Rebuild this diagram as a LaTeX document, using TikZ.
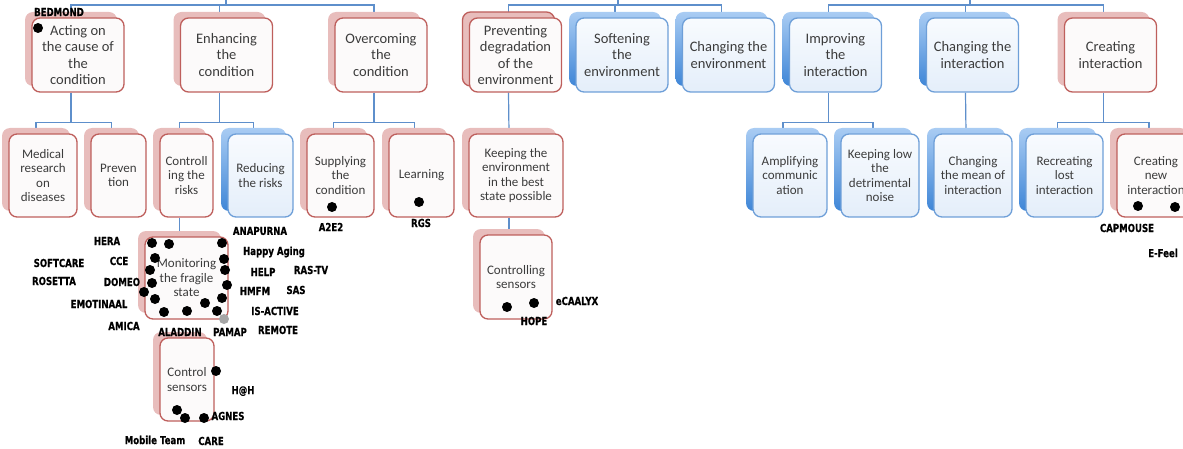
\documentclass[tikz,border=0pt]{standalone}
\usepackage{fontspec}
\setmainfont{Carlito}
\newfontfamily\tagfont{DejaVu Sans}[FakeStretch=0.78, FakeBold=0.6]
\usetikzlibrary{positioning, shadows, backgrounds}
\definecolor{linkblue}{HTML}{5E8FCB}
\definecolor{redline}{HTML}{BE5F5C}
\definecolor{redshade}{HTML}{E8BDBC}
\definecolor{redfill}{HTML}{FCFAFA}
\definecolor{blueline}{HTML}{6E9FD8}
\definecolor{bluetop}{HTML}{F8FBFE}
\definecolor{bluebot}{HTML}{E4EEFA}
\definecolor{blueshtop}{HTML}{A9CCF3}
\definecolor{blueshbot}{HTML}{3F86D7}
\definecolor{boxtext}{HTML}{3C3C3C}
\tikzset{
  goal/.style={draw, rounded corners=8pt, line width=1.3pt, align=center, text=boxtext, inner sep=0pt},
  redbase/.style={goal, draw=redline, fill=redfill},
  redgoal/.style={redbase, general shadow={fill=redshade, shadow xshift=-7pt, shadow yshift=6pt}},
  redgoaltwin/.style={redbase, general shadow={draw=redline, line width=1.3pt, fill=redshade, shadow xshift=-7pt, shadow yshift=6pt}},
  bluegoal/.style={goal, draw=blueline, top color=bluetop, bottom color=bluebot,
    general shadow={top color=blueshtop, bottom color=blueshbot, shadow xshift=-7pt, shadow yshift=6pt}},
  lvlone/.style={minimum width=92pt, minimum height=74pt, font=\fontsize{14.5}{16.5}\selectfont},
  lvltwo/.style={minimum height=83pt, font=\fontsize{13}{14.5}\selectfont},
  link/.style={draw=linkblue, line width=1.2pt},
  dot/.style={circle, fill=black, minimum size=10pt, inner sep=0pt},
  tag/.style={font=\tagfont\bfseries\fontsize{11}{12}\selectfont, inner sep=0pt}
}
\begin{document}
\begin{tikzpicture}[x=1pt, y=-1pt]
    \useasboundingbox (0,0) rectangle (1183,449);

    % first level
    \node[redgoal, lvlone] (act) at (78,55) {Acting on\\the cause of\\the\\condition};
    \node[redgoal, lvlone] (enh) at (226.5,55) {Enhancing\\the\\condition};
    \node[redgoal, lvlone] (ovc) at (381,55) {Overcoming\\the\\condition};
    \node[redgoaltwin, lvlone] (prv) at (515.5,55) {Preventing\\degradation\\of the\\environment};
    \node[bluegoal, lvlone] (sft) at (622,55) {Softening\\the\\environment};
    \node[bluegoal, lvlone] (chg) at (728.5,55) {Changing the\\environment};
    \node[bluegoal, lvlone] (imp) at (835.5,55) {Improving\\the\\interaction};
    \node[bluegoal, lvlone] (chi) at (972.5,55) {Changing the\\interaction};
    \node[redgoal, lvlone] (cre) at (1110.5,55) {Creating\\interaction};

    % second level
    \node[redgoal, lvltwo, minimum width=68pt] (med) at (43,175.5) {Medical\\research\\on\\diseases};
    \node[redgoal, lvltwo, minimum width=55pt] (pvn) at (118.5,175.5) {Preven\\tion};
    \node[redgoal, lvltwo, minimum width=53pt] (ctl) at (186.5,175.5) {Controll\\ing the\\risks};
    \node[bluegoal, lvltwo, minimum width=65pt] (rdc) at (260.5,175.5) {Reducing\\the risks};
    \node[redgoal, lvltwo, minimum width=67pt] (sup) at (340.5,175.5) {Supplying\\the\\condition};
    \node[redgoal, lvltwo, minimum width=65pt] (lrn) at (421.5,175.5) {Learning};
    \node[redgoal, lvltwo, minimum width=94pt] (kee) at (516,175.5) {Keeping the\\environment\\in the best\\state possible};
    \node[bluegoal, lvltwo, minimum width=74pt] (amp) at (790,175.5) {Amplifying\\communic\\ation};
    \node[bluegoal, lvltwo, minimum width=78pt] (klo) at (880,175.5) {Keeping low\\the\\detrimental\\noise};
    \node[bluegoal, lvltwo, minimum width=78pt] (chm) at (973,175.5) {Changing\\the mean of\\interaction};
    \node[bluegoal, lvltwo, minimum width=77pt] (rec) at (1064.5,175.5) {Recreating\\lost\\interaction};
    \node[redgoal, lvltwo, minimum width=78pt] (crn) at (1156,175.5) {Creating\\new\\interaction};

    % third level
    \node[redgoal, lvltwo, minimum width=83pt, minimum height=82pt] (mon) at (186.5,278) {Monitoring\\the fragile\\state};
    \node[redgoal, lvltwo, minimum width=54pt] (csn) at (187,379.5) {Control\\sensors};
    \node[redgoal, lvltwo, minimum width=72pt, minimum height=84pt] (cse) at (516,277) {Controlling\\sensors};

    % connectors
    \coordinate (cureroot) at (226,0);
    \coordinate (curebar) at (226,5);
    \coordinate (envroot) at (618,0);
    \coordinate (envbar) at (618,5);
    \coordinate (introot) at (970,0);
    \coordinate (intbar) at (970,5);
    \begin{scope}[on background layer]
      \draw[link] (cureroot) -- (curebar);
      \draw[link] ([xshift=-7pt]act.north) |- (curebar) -| ([xshift=-7pt]ovc.north);
      \draw[link] (curebar) -| ([xshift=-7pt]enh.north);
      \draw[link] (envroot) -- (envbar);
      \draw[link] ([xshift=-7pt]prv.north) |- (envbar) -| ([xshift=-7pt]chg.north);
      \draw[link] (envbar) -| ([xshift=-7pt]sft.north);
      \draw[link] (introot) -- (intbar);
      \draw[link] ([xshift=-7pt]imp.north) |- (intbar) -| ([xshift=-7pt]cre.north);
      \draw[link] (intbar) -| ([xshift=-7pt]chi.north);

      \draw[link] ([xshift=-7pt]act.south) -- ++(0,30) coordinate (actbar);
      \draw[link] ([xshift=-7pt]med.north) |- (actbar) -| ([xshift=-7pt]pvn.north);
      \draw[link] ([xshift=-7pt]enh.south) -- ++(0,30) coordinate (enhbar);
      \draw[link] ([xshift=-7pt]ctl.north) |- (enhbar) -| ([xshift=-7pt]rdc.north);
      \draw[link] ([xshift=-7pt]ovc.south) -- ++(0,30) coordinate (ovcbar);
      \draw[link] ([xshift=-7pt]sup.north) |- (ovcbar) -| ([xshift=-7pt]lrn.north);
      \draw[link] ([xshift=-7pt]prv.south) -- ([xshift=-7pt]kee.north);
      \draw[link] ([xshift=-7pt]imp.south) -- ++(0,30) coordinate (impbar);
      \draw[link] ([xshift=-7pt]amp.north) |- (impbar) -| ([xshift=-7pt]klo.north);
      \draw[link] ([xshift=-7pt]chi.south) -- ([xshift=-7pt]chm.north);
      \draw[link] ([xshift=-7pt]cre.south) -- ++(0,30) coordinate (crebar);
      \draw[link] ([xshift=-7pt]rec.north) |- (crebar) -| ([xshift=-7pt]crn.north);

      \draw[link] ([xshift=-7pt]ctl.south) -- ([xshift=-7pt]mon.north);
      \draw[link] ([xshift=-7pt]kee.south) -- ([xshift=-7pt]cse.north);
    \end{scope}

    % projects
    \node[dot] (bedmonddot) at (38,28) {};
    \node[dot] (a2e2dot) at (332,207) {};
    \node[dot] (rgsdot) at (419,202) {};
    \node[dot] (capmousedot) at (1138,206) {};
    \node[dot] (efeeldot) at (1175,207) {};
    \node[dot] (hopedot) at (507,307) {};
    \node[dot] (ecaalyxdot) at (534,303) {};
    \node[dot] (hhdot) at (216,371) {};
    \node[dot] (mobiledot) at (177,410) {};
    \node[dot] (agnesdot) at (185,418) {};
    \node[dot] (caredot) at (204,418) {};
    \foreach \i/\px/\py in {1/152/243, 2/169/244, 3/222/243, 4/155/258, 5/224/259,
        6/150/270, 7/225/270, 8/152/283, 9/227/285, 10/144/292, 11/155/299,
        12/222/298, 13/205/303, 14/164/312, 15/187/311, 16/217/311}
      \node[dot] (mon\i) at (\px,\py) {};
    \node[dot, fill=black!35] (mon17) at (224,319) {};

    \node[tag] (bedmond) at (59,12) {BEDMOND};
    \node[tag] (a2e2) at (331,227) {A2E2};
    \node[tag] (rgs) at (421,223) {RGS};
    \node[tag] (capmouse) at (1127,228) {CAPMOUSE};
    \node[tag] (efeel) at (1163,253) {E-Feel};
    \node[tag] (ecaalyx) at (577,301) {eCAALYX};
    \node[tag] (hope) at (534,321) {HOPE};
    \node[tag] (hh) at (243,391) {H@H};
    \node[tag] (agnes) at (228,416) {AGNES};
    \node[tag] (mobile) at (155,440) {Mobile Team};
    \node[tag] (care) at (211,441) {CARE};
    \node[tag] (anapurna) at (260,231) {ANAPURNA};
    \node[tag] (hera) at (107,241) {HERA};
    \node[tag] (happy) at (274,252) {Happy Aging};
    \node[tag] (softcare) at (59,263) {SOFTCARE};
    \node[tag] (cce) at (119,261) {CCE};
    \node[tag] (help) at (263,272) {HELP};
    \node[tag] (rastv) at (311,270) {RAS-TV};
    \node[tag] (rosetta) at (54,281) {ROSETTA};
    \node[tag] (domeo) at (122,282) {DOMEO};
    \node[tag] (hmfm) at (255,291) {HMFM};
    \node[tag] (sas) at (296,290) {SAS};
    \node[tag] (emotinaal) at (99,304) {EMOTINAAL};
    \node[tag] (isactive) at (275,311) {IS-ACTIVE};
    \node[tag] (amica) at (124,326) {AMICA};
    \node[tag] (aladdin) at (180,332) {ALADDIN};
    \node[tag] (pamap) at (230,332) {PAMAP};
    \node[tag] (remote) at (278,330) {REMOTE};
\end{tikzpicture}
\end{document}
